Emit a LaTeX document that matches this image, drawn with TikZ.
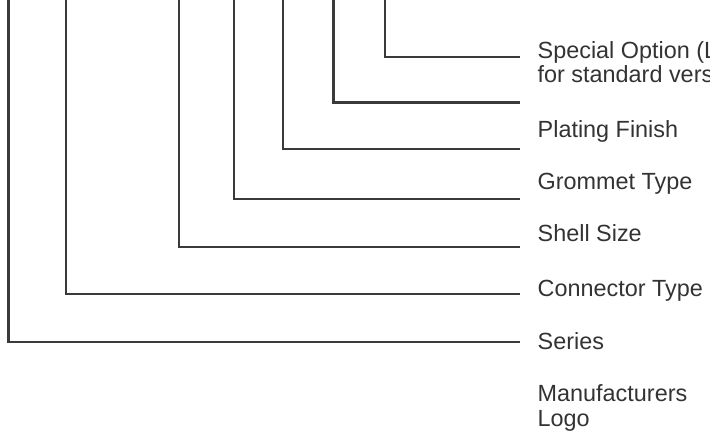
\documentclass[tikz,border=0pt]{standalone}
\usepackage{fontspec}
\setmainfont{Liberation Sans}
\definecolor{ink}{HTML}{3A3A3A}
\definecolor{txt}{HTML}{333333}
\begin{document}
\begin{tikzpicture}[x=1pt,y=-1pt,
  lead/.style={draw=ink,line width=2.3pt,line cap=butt,line join=miter},
  lbl/.style={anchor=base west,inner sep=0pt,text=txt,font=\fontsize{23.4}{24.4}\selectfont,align=left}]
\useasboundingbox (0,0) rectangle (710,437);
\clip (0,0) rectangle (710,437);
% top ends of the leaders
\coordinate (t1) at (8.5,0);
\coordinate (t2) at (65.7,0);
\coordinate (t3) at (179.3,0);
\coordinate (t4) at (233.8,0);
\coordinate (t5) at (283,0);
\coordinate (t6) at (333.5,0);
\coordinate (t7) at (385,0);
% right ends of the leaders
\coordinate (e1) at (520,341.8);
\coordinate (e2) at (520,294);
\coordinate (e3) at (520,246.7);
\coordinate (e4) at (520,199);
\coordinate (e5) at (520,149);
\coordinate (e6) at (520,102.5);
\coordinate (e7) at (520,57);
% labels (multi-line nodes: base = last line's baseline)
\node[lbl] (l7) at (537.5,82.8) {Special Option (Leave blank\\for standard version)};
\node[lbl] (l5) at (537.5,137.5) {Plating Finish};
\node[lbl] (l4) at (537.5,189.5) {Grommet Type};
\node[lbl] (l3) at (537.5,241.5) {Shell Size};
\node[lbl] (l2) at (537.5,296) {Connector Type};
\node[lbl] (l1) at (537.5,349.3) {Series};
\node[lbl] (l0) at (537.5,426) {Manufacturers\\Logo};
% leaders
\draw[lead] (t1) |- (e1);
\draw[lead] (t2) |- (e2);
\draw[lead] (t3) |- (e3);
\draw[lead] (t4) |- (e4);
\draw[lead] (t5) |- (e5);
\draw[lead] (t6) |- (e6);
\draw[lead] (t7) |- (e7);
\end{tikzpicture}
\end{document}
